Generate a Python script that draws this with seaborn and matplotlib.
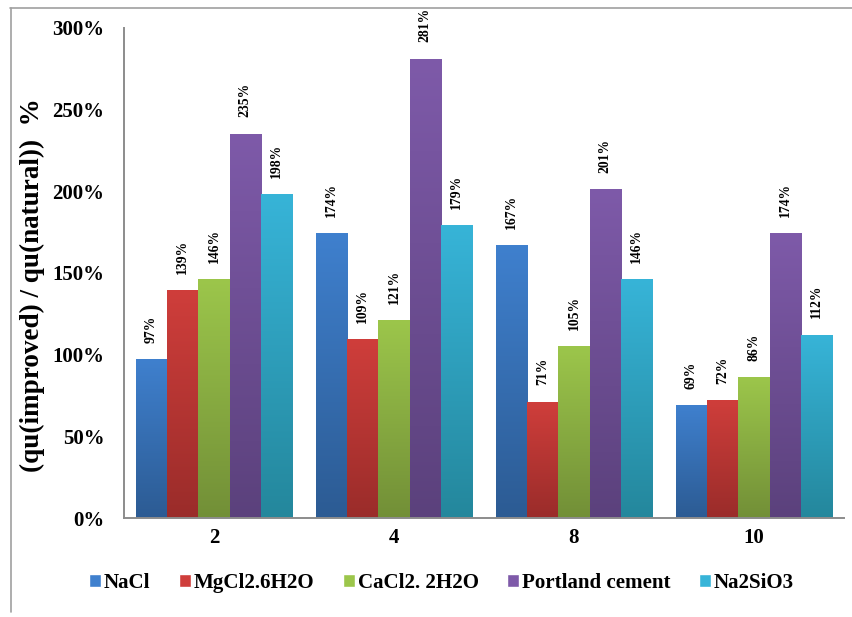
import numpy as np
import pandas as pd
import matplotlib
matplotlib.use("Agg")
import matplotlib.pyplot as plt
import seaborn as sns
from matplotlib.colors import to_rgb
from matplotlib.lines import Line2D

# Curing periods (x groups) and additive series
periods = ["2", "4", "8", "10"]
additives = ["NaCl", "MgCl2.6H2O", "CaCl2. 2H2O", "Portland cement", "Na2SiO3"]

nacl = [97, 174, 167, 69]
mgcl2 = [139, 109, 71, 72]
cacl2 = [146, 121, 105, 86]
portland = [235, 281, 201, 174]
na2sio3 = [198, 179, 146, 112]

# top / bottom shades for the vertical gradient of each series
top_colors = ["#3F80CE", "#CF3E3B", "#9CC64B", "#7E5AA9", "#37B4D8"]
bottom_colors = ["#2C5B93", "#9A2C2A", "#728F37", "#5B417C", "#24879C"]

series = [nacl, mgcl2, cacl2, portland, na2sio3]
df = pd.DataFrame({
    "period": np.repeat([periods], len(additives), axis=0).ravel(),
    "additive": np.repeat(additives, len(periods)),
    "ratio": np.concatenate(series),
})

sns.set_theme(style="white")
plt.rcParams["font.family"] = ["Liberation Serif", "DejaVu Serif"]
plt.rcParams["font.weight"] = "bold"
for key in ["text.color", "axes.labelcolor", "xtick.color", "ytick.color"]:
    plt.rcParams[key] = "black"

fig = plt.figure(figsize=(8.53, 6.17), dpi=100)
ax = fig.add_axes([124 / 853, 99 / 617, 720 / 853, 490 / 617])

sns.barplot(data=df, x="period", y="ratio", hue="additive", order=periods,
            hue_order=additives, palette=top_colors, width=0.87, gap=0,
            saturation=1, ax=ax, legend=True, errorbar=None)

ax.set_ylim(0, 300)
ax.set_xlim(-0.5, 3.5)

# replace flat fills by a vertical gradient (light at top, dark at bottom)
bars = [p for p in ax.patches if p.get_height() > 0]
for i, add in enumerate(additives):
    c_top = np.array(to_rgb(top_colors[i]))
    c_bot = np.array(to_rgb(bottom_colors[i]))
    grad = np.linspace(0, 1, 256)[:, None]
    img = (c_top[None, :] * (1 - grad) + c_bot[None, :] * grad)[:, None, :]
    for j in range(len(periods)):
        p = bars[i * len(periods) + j]
        x0, w, h = p.get_x(), p.get_width(), p.get_height()
        p.set_alpha(0)
        ax.imshow(img, extent=(x0, x0 + w, 0, h), origin="upper",
                  aspect="auto", zorder=2, interpolation="bilinear")
        ax.annotate(f"{series[i][j]}%", (x0 + w / 2, h), xytext=(0, 12),
                    textcoords="offset points", rotation=90, ha="center",
                    va="bottom", fontsize=9.8, fontweight="bold", color="black")

ax.set_ylim(0, 300)
ax.set_xlim(-0.5, 3.5)
ax.set_yticks(np.arange(0, 301, 50))
ax.set_yticklabels([f"{v}%" for v in range(0, 301, 50)])
ax.tick_params(axis="both", length=0, labelsize=15)
ax.tick_params(axis="x", pad=7)
ax.tick_params(axis="y", pad=14)
for lab in ax.get_xticklabels() + ax.get_yticklabels():
    lab.set_fontweight("bold")
ax.set_xlabel("")
ax.set_ylabel("(qu(improved) / qu(natural))  %", fontsize=19.5,
              fontweight="bold")
ax.yaxis.set_label_coords(-0.110, 0.476)

for s in ["top", "right"]:
    ax.spines[s].set_visible(False)
for s in ["left", "bottom"]:
    ax.spines[s].set_color("#8C8C8C")
    ax.spines[s].set_linewidth(1.4)

handles, labels = ax.get_legend_handles_labels()
for h, c in zip(handles, top_colors):
    h.set_alpha(1)
    h.set_facecolor(c)
ax.legend(handles, labels, loc="center", bbox_to_anchor=(0.5176, 0.055),
          bbox_transform=fig.transFigure, ncol=5, frameon=False,
          handlelength=0.57, handleheight=0.57, handletextpad=0.15,
          columnspacing=1.35, prop={"weight": "bold", "size": 15.1})

# thin outer frame lines
fig.add_artist(Line2D([10 / 853, 1], [1 - 8 / 617, 1 - 8 / 617],
                      color="#A0A0A0", lw=1.2))
fig.add_artist(Line2D([11 / 853, 11 / 853], [1 - 8 / 617, 1 - 612 / 617],
                      color="#A0A0A0", lw=1.2))

fig.savefig("out.png", dpi=100)
